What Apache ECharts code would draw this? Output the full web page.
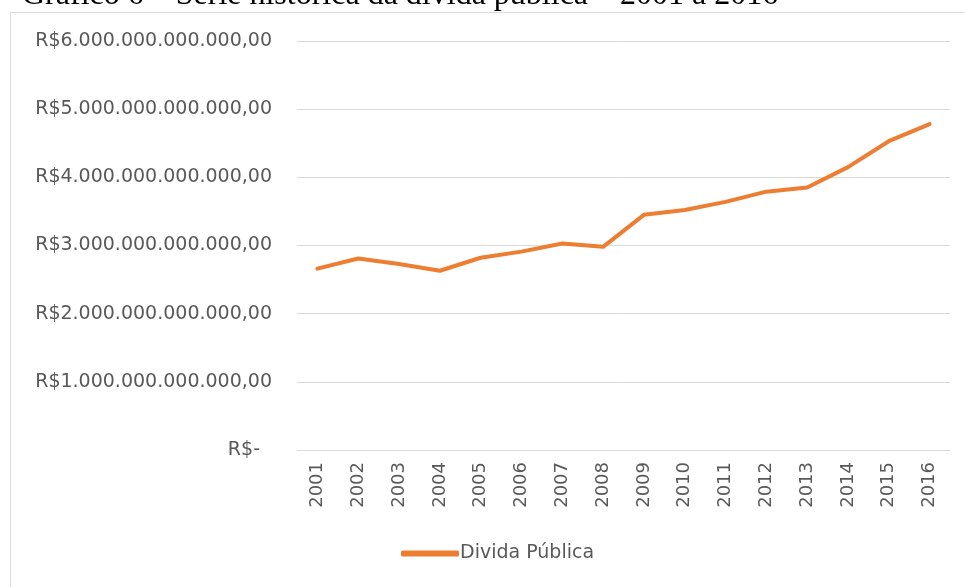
<!DOCTYPE html>
<html lang="pt">
<head>
<meta charset="UTF-8">
<title>Dívida pública</title>
<style>
  html, body { margin: 0; padding: 0; background: #fff; }
  #chart { width: 965px; height: 587px; }
</style>
</head>
<body>
<div id="chart"></div>
<script src="https://cdn.jsdelivr.net/npm/echarts@6/dist/echarts.min.js"></script>
<script>
// anos e valores (R$ trilhões)
var anos = ['2001','2002','2003','2004','2005','2006','2007','2008','2009','2010','2011','2012','2013','2014','2015','2016'];
var divida = [2.66, 2.81, 2.73, 2.63, 2.82, 2.91, 3.03, 2.98, 3.45, 3.52, 3.64, 3.79, 3.85, 4.15, 4.53, 4.78];
var serieNome = 'Divida Pública';
var titulo = 'Gráfico 6 – Série histórica da dívida pública – 2001 a 2016';

var chart = echarts.init(document.getElementById('chart'));
var fonte = '"DejaVu Sans", sans-serif';

var option = {
    animation: false,
    graphic: [
        {
            type: 'text',
            left: 22,
            top: -20,
            style: { text: titulo, font: '32px "Liberation Serif", serif', fill: '#000' }
        },
        {
            type: 'rect',
            shape: { x: 10.5, y: 12.5, width: 980, height: 600 },
            style: { fill: 'none', stroke: '#d9d9d9', lineWidth: 1 },
            z: -1
        }
    ],
    grid: { left: 297, right: 15, top: 41, bottom: 137, containLabel: false },
    legend: {
        bottom: 19,
        left: 396,
        itemWidth: 58,
        itemHeight: 6,
        itemGap: 10,
        icon: 'roundRect',
        textStyle: { color: '#595959', fontSize: 19, fontFamily: fonte, padding: [0, 0, 0, -4] },
        data: [serieNome]
    },
    xAxis: {
        type: 'category',
        data: anos,
        boundaryGap: true,
        axisLine: { lineStyle: { color: '#d9d9d9' } },
        axisTick: { show: false },
        axisLabel: { rotate: 90, color: '#595959', fontSize: 18, fontFamily: fonte, margin: 12 }
    },
    yAxis: {
        type: 'value',
        min: 0,
        max: 6,
        interval: 1,
        axisLine: { show: false },
        axisTick: { show: false },
        splitLine: { lineStyle: { color: '#d9d9d9', width: 1 } },
        axisLabel: {
            color: '#595959',
            fontSize: 19,
            fontFamily: fonte,
            margin: 25,
            formatter: function (v) {
                if (v === 0) return '{z|R$-}';
                return 'R$' + v + '.000.000.000.000,00';
            },
            rich: { z: { color: '#595959', fontSize: 19, fontFamily: fonte, padding: [0, 12, 0, 0] } }
        }
    },
    series: [{
        name: serieNome,
        type: 'line',
        data: divida,
        symbol: 'none',
        lineStyle: { color: '#ED7D31', width: 4, cap: 'round', join: 'round' },
        itemStyle: { color: '#ED7D31' }
    }]
};
chart.setOption(option);
</script>
</body>
</html>
